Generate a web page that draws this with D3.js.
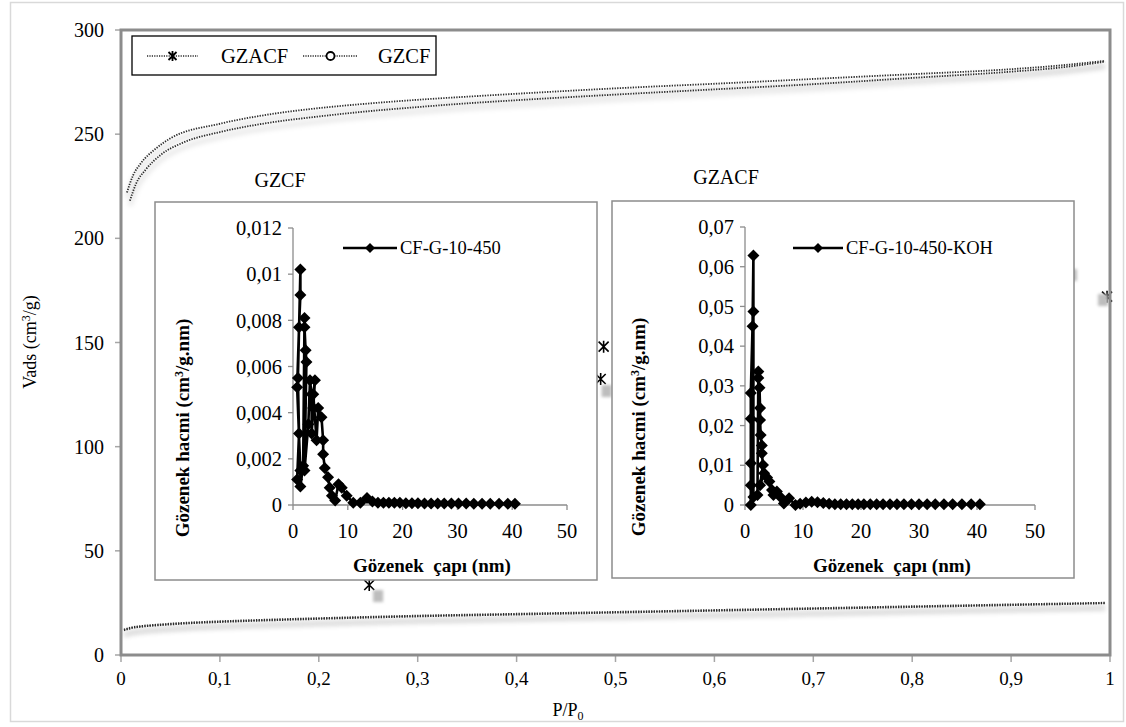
<!DOCTYPE html>
<html><head><meta charset="utf-8">
<script src="https://cdn.jsdelivr.net/npm/d3@7"></script>
<style>
body{margin:0;background:#fff}
svg text{font-family:'Liberation Serif','DejaVu Serif',serif;fill:#000}
</style>
</head><body>
<svg id="c" width="1126" height="727" font-family="Liberation Serif, serif"></svg>
<script>
// ---------------- DATA ----------------
// Main isotherms (P/P0 vs Vads)
const gzacfAdsP = [0.009,0.015,0.025,0.04,0.063,0.1,0.15,0.2,0.25,0.3,0.35,0.4,0.5,0.6,0.7,0.8,0.9,0.95,0.995];
const gzacfAdsV = [218,226,233,240,246,251,255.5,258.5,261,263,264.8,266.3,269,271.5,274,277,280,282,284.8];
const gzacfDesP = [0.006,0.012,0.02,0.035,0.05,0.1,0.15,0.2,0.25,0.3,0.35,0.4,0.5,0.6,0.7,0.8,0.9,0.95,0.995];
const gzacfDesV = [222,230,236,243,248,255,259.5,262.5,264.7,266.5,268,269.4,272,274.2,276.5,278.8,281.2,283,285.2];
const gzcfAdsP = [0.003,0.01,0.02,0.04,0.07,0.1,0.15,0.2,0.3,0.4,0.5,0.6,0.7,0.8,0.9,0.995];
const gzcfAdsV = [11.8,12.8,13.5,14.3,15.2,15.8,16.6,17.3,18.5,19.4,20.3,21.2,22.1,23,23.9,24.8];
const gzcfDesP = [0.003,0.01,0.02,0.04,0.07,0.1,0.15,0.2,0.3,0.4,0.5,0.6,0.7,0.8,0.9,0.995];
const gzcfDesV = [12.2,13.2,13.9,14.7,15.6,16.2,17.0,17.7,18.9,19.8,20.7,21.6,22.5,23.4,24.3,25.1];
// stray GZACF markers visible on the main chart
const strayP = [0.488,0.485,0.251,0.997];
const strayV = [148,132.5,33.6,172];
const boxP = [0.491,0.26,0.9616,0.993];
const boxV = [126.7,28.3,182.4,170.4];

const seriesNames = ["GZACF","GZCF"];
const xTickVals = [0,0.1,0.2,0.3,0.4,0.5,0.6,0.7,0.8,0.9,1];
const xTickLabels = ["0","0,1","0,2","0,3","0,4","0,5","0,6","0,7","0,8","0,9","1"];
const yTickVals = [0,50,100,150,200,250,300];
const yTickLabels = ["0","50","100","150","200","250","300"];

// Inset 1: GZCF pore size distribution (CF-G-10-450)
const psd1D = [0.75,1.1,0.9,1.35,1.35,1.1,0.75,1.35,1.35,1.85,2.1,2.1,2.3,2.45,2.1,2.8,3.1,3.4,3.4,3.7,4.0,3.7,4.3,4.6,5.2,5.5,5.5,5.8,6.4,6.7,7.1,7.7,8.3,8.9,9.8,11,12.3,13.5,14.5,15.5,16.5,17.5,18.5,19.5,20.6,21.7,22.8,24,25.2,26.4,27.6,28.9,30.2,31.6,33,34.5,36,37.6,39.2,40.5];
const psd1V = [0.0011,0.0031,0.0055,0.0102,0.0091,0.0077,0.0051,0.0015,0.0008,0.0017,0.0081,0.0077,0.0067,0.0062,0.0015,0.0035,0.0054,0.0048,0.0031,0.0042,0.0054,0.0048,0.0028,0.0042,0.0038,0.0028,0.0022,0.0016,0.0012,0.00075,0.0004,0.0002,0.0009,0.00075,0.0004,0.0001,0.0001,0.0003,0.00015,0.0001,0.0001,0.0001,0.0001,0.0001,0.00008,0.00008,0.00008,0.00007,0.00007,0.00007,0.00006,0.00006,0.00006,0.00006,0.00005,0.00005,0.00005,0.00005,0.00005,0.00005];
const psd1Ticks = [0,0.002,0.004,0.006,0.008,0.01,0.012];
const psd1TickLabels = ["0","0,002","0,004","0,006","0,008","0,01","0,012"];

// Inset 2: GZACF pore size distribution (CF-G-10-450-KOH)
const psd2D = [1.0,1.0,1.0,1.0,1.0,1.3,1.45,1.45,1.45,2.15,2.3,2.3,2.5,2.6,2.6,2.7,2.9,2.9,3.1,2.6,3.3,3.8,4.2,4.65,4.9,5.5,6.1,6.7,7.6,8.7,9.5,10.5,11.5,12.5,13.5,14.5,15.5,16.5,17.5,18.5,19.5,20.5,21.6,22.7,23.8,25,26.2,27.4,28.7,30,31.4,32.8,34.3,35.8,37.4,39,40.5];
const psd2V = [0.0,0.005,0.0105,0.0217,0.0282,0.045,0.0628,0.0487,0.002,0.0025,0.0336,0.032,0.0295,0.0244,0.0214,0.0176,0.015,0.013,0.0101,0.005,0.008,0.0069,0.0059,0.0038,0.0025,0.0034,0.002,0.0004,0.0017,0.0,0.0003,0.0006,0.0008,0.0007,0.0005,0.0003,0.0002,0.0002,0.0002,0.0002,0.0002,0.0002,0.0002,0.0002,0.0002,0.0002,0.0002,0.0002,0.0002,0.0002,0.0002,0.0002,0.0002,0.0002,0.0002,0.0002,0.0002];
const psd2Ticks = [0,0.01,0.02,0.03,0.04,0.05,0.06,0.07];
const psd2TickLabels = ["0","0,01","0,02","0,03","0,04","0,05","0,06","0,07"];
const psdXTicks = [0,10,20,30,40,50];
const psdXTickLabels = ["0","10","20","30","40","50"];

// ---------------- DRAW ----------------
const FONT = "'Liberation Serif','DejaVu Serif',serif";
const svg = d3.select('#c');
const defs = svg.append('defs');
defs.append('filter').attr('id','blur').attr('x','-20%').attr('y','-50%').attr('width','140%').attr('height','200%')
  .append('feGaussianBlur').attr('stdDeviation',2.5);
defs.append('filter').attr('id','blur2').attr('x','-100%').attr('y','-100%').attr('width','300%').attr('height','300%')
  .append('feGaussianBlur').attr('stdDeviation',1.5);

// outer chart border
svg.append('rect').attr('x',10.5).attr('y',2.5).attr('width',1113).attr('height',719)
  .attr('fill','#fff').attr('stroke','#d9d9d9').attr('stroke-width',1.5);

const x = d3.scaleLinear().domain([0,1]).range([121,1110]);
const y = d3.scaleLinear().domain([0,300]).range([655,30]);

// axis ticks & labels
const gY = svg.append('g');
gY.selectAll('line').data(yTickVals).join('line')
  .attr('x1',115).attr('x2',121).attr('y1',d=>y(d)).attr('y2',d=>y(d))
  .attr('stroke','#a6a6a6').attr('stroke-width',1.5);
gY.selectAll('text').data(yTickVals).join('text')
  .attr('x',104).attr('y',d=>y(d)).attr('dy','0.35em').attr('text-anchor','end')
  .attr('font-size',20).text((d,i)=>yTickLabels[i]);
const gX = svg.append('g');
gX.selectAll('line').data(xTickVals).join('line')
  .attr('x1',d=>x(d)).attr('x2',d=>x(d)).attr('y1',655).attr('y2',662)
  .attr('stroke','#a6a6a6').attr('stroke-width',1.5);
gX.selectAll('text').data(xTickVals).join('text')
  .attr('x',d=>x(d)).attr('y',685).attr('text-anchor','middle')
  .attr('font-size',19).text((d,i)=>xTickLabels[i]);

// axis titles
const yt = svg.append('text').attr('transform','translate(36,342) rotate(-90)')
  .attr('text-anchor','middle').attr('font-size',18);
yt.append('tspan').text('Vads (cm');
yt.append('tspan').attr('font-size',12).attr('dy',-6).text('3');
yt.append('tspan').attr('dy',6).text('/g)');
const xt = svg.append('text').attr('x',568).attr('y',716).attr('text-anchor','middle').attr('font-size',18);
xt.append('tspan').text('P/P');
xt.append('tspan').attr('font-size',12).attr('dy',4).text('0');

// isotherm curves
const line = d3.line().x(d=>x(d[0])).y(d=>y(d[1])).curve(d3.curveMonotoneX);
const curves = [
  d3.zip(gzacfAdsP,gzacfAdsV), d3.zip(gzacfDesP,gzacfDesV),
  d3.zip(gzcfAdsP,gzcfAdsV), d3.zip(gzcfDesP,gzcfDesV)
];
const gC = svg.append('g');
curves.forEach(c=>{
  gC.append('path').attr('d',line(c)).attr('fill','none').attr('stroke','#000').attr('stroke-opacity',0.1)
    .attr('stroke-width',4).attr('transform','translate(0,5)').attr('filter','url(#blur)');
});
curves.forEach(c=>{
  gC.append('path').attr('d',line(c)).attr('fill','none').attr('stroke','#2a2a2a')
    .attr('stroke-width',1.8).attr('stroke-dasharray','1.3,1.3');
});

// stray markers and label boxes (partially covered by insets)
const asterisk = 'M-5,-5L5,5M-5,5L5,-5M0,-6L0,6';
strayP.forEach((p,i)=>{
  svg.append('path').attr('d',asterisk).attr('transform',`translate(${x(p)},${y(strayV[i])})`)
    .attr('stroke','#000').attr('stroke-width',1.6).attr('fill','none');
});
boxP.forEach((p,i)=>{
  svg.append('rect').attr('x',x(p)-5).attr('y',y(boxV[i])-6).attr('width',10).attr('height',12)
    .attr('fill','#bdbdbd').attr('filter','url(#blur2)');
});

// main frame
svg.append('rect').attr('x',121).attr('y',30).attr('width',989).attr('height',625)
  .attr('fill','none').attr('stroke','#8c8c8c').attr('stroke-width',3);

// legend
const lg = svg.append('g');
lg.append('rect').attr('x',132).attr('y',36).attr('width',304).attr('height',39)
  .attr('fill','#fff').attr('stroke','#000').attr('stroke-width',1.3);
const legItems = [{x1:147,x2:198,tx:221,m:'ast'},{x1:303,x2:358,tx:378,m:'circ'}];
legItems.forEach((it,i)=>{
  lg.append('line').attr('x1',it.x1).attr('x2',it.x2).attr('y1',56).attr('y2',56)
    .attr('stroke','#2a2a2a').attr('stroke-width',1.5).attr('stroke-dasharray','1.2,1.2');
  const cx=(it.x1+it.x2)/2;
  if(it.m==='ast') lg.append('path').attr('d','M-4,-4L4,4M-4,4L4,-4M0,-5L0,5').attr('transform',`translate(${cx},56)`)
    .attr('stroke','#000').attr('stroke-width',1.8);
  else lg.append('circle').attr('cx',cx).attr('cy',56).attr('r',4).attr('fill','#fff').attr('stroke','#000').attr('stroke-width',1.8);
  lg.append('text').attr('x',it.tx).attr('y',63).attr('font-size',20.5).text(seriesNames[i]);
});

// inset titles
svg.append('text').attr('x',280).attr('y',187).attr('text-anchor','middle').attr('font-size',20).text('GZCF');
svg.append('text').attr('x',726).attr('y',184).attr('text-anchor','middle').attr('font-size',20).text('GZACF');

const diamond = 'M0,-6L6,0L0,6L-6,0Z';
function inset(o){
  const g = svg.append('g');
  g.append('rect').attr('x',o.bx).attr('y',o.by).attr('width',o.bw).attr('height',o.bh)
    .attr('fill','#fff').attr('stroke','#8c8c8c').attr('stroke-width',1.5);
  const sx = d3.scaleLinear().domain([0,50]).range(o.xr);
  const sy = d3.scaleLinear().domain([0,o.ymax]).range(o.yr);
  // axes
  g.append('line').attr('x1',o.xr[0]).attr('x2',o.xr[0]).attr('y1',o.yr[0]).attr('y2',o.yr[1]).attr('stroke','#8c8c8c').attr('stroke-width',1.3);
  g.append('line').attr('x1',o.xr[0]).attr('x2',o.xr[1]).attr('y1',o.yr[0]).attr('y2',o.yr[0]).attr('stroke','#8c8c8c').attr('stroke-width',1.3);
  g.selectAll('.yt').data(o.yTicks).join('line').attr('x1',o.xr[0]-5).attr('x2',o.xr[0])
    .attr('y1',d=>sy(d)).attr('y2',d=>sy(d)).attr('stroke','#8c8c8c').attr('stroke-width',1.3);
  g.selectAll('.ytl').data(o.yTicks).join('text').attr('x',o.xr[0]-11).attr('y',d=>sy(d)).attr('dy','0.35em')
    .attr('text-anchor','end').attr('font-size',20.5).text((d,i)=>o.yLabels[i]);
  g.selectAll('.xt').data(psdXTicks).join('line').attr('x1',d=>sx(d)).attr('x2',d=>sx(d))
    .attr('y1',o.yr[0]).attr('y2',o.yr[0]+5).attr('stroke','#8c8c8c').attr('stroke-width',1.3);
  g.selectAll('.xtl').data(psdXTicks).join('text').attr('x',d=>sx(d)).attr('y',o.yr[0]+33)
    .attr('text-anchor','middle').attr('font-size',20.5).text((d,i)=>psdXTickLabels[i]);
  // titles
  const t = g.append('text').attr('transform',`translate(${o.ytx},${o.yty}) rotate(-90)`)
    .attr('text-anchor','middle').attr('font-size',19).attr('font-weight','bold');
  t.append('tspan').text('Gözenek hacmi (cm');
  t.append('tspan').attr('font-size',12).attr('dy',-6).text('3');
  t.append('tspan').attr('dy',6).text('/g.nm)');
  g.append('text').attr('x',o.xtx).attr('y',o.yr[0]+67).attr('text-anchor','middle').attr('font-size',19)
    .attr('font-weight','bold').attr('xml:space','preserve').text('Gözenek  çapı (nm)');
  // data
  const pts = d3.zip(o.d,o.v);
  const ln = d3.line().x(d=>sx(d[0])).y(d=>sy(d[1]));
  g.append('path').attr('d',ln(pts)).attr('fill','none').attr('stroke','#000').attr('stroke-width',2.6);
  g.selectAll('.m').data(pts).join('path').attr('d',diamond)
    .attr('transform',d=>`translate(${sx(d[0])},${sy(d[1])})`).attr('fill','#000');
  // legend
  g.append('line').attr('x1',o.lx1).attr('x2',o.lx2).attr('y1',248).attr('y2',248).attr('stroke','#000').attr('stroke-width',2.4);
  g.append('path').attr('d','M0,-5L5,0L0,5L-5,0Z').attr('transform',`translate(${(o.lx1+o.lx2)/2},248)`).attr('fill','#000');
  g.append('text').attr('x',o.lx2+3).attr('y',254).attr('font-size',18.5).text(o.name);
}
inset({bx:155,by:202,bw:442,bh:378,xr:[293,567],yr:[505,228],ymax:0.012,yTicks:psd1Ticks,yLabels:psd1TickLabels,
  d:psd1D,v:psd1V,ytx:189,yty:428,xtx:432,lx1:343,lx2:397,name:'CF-G-10-450'});
inset({bx:612,by:201,bw:462,bh:377,xr:[745,1035],yr:[505,227],ymax:0.07,yTicks:psd2Ticks,yLabels:psd2TickLabels,
  d:psd2D,v:psd2V,ytx:645,yty:427,xtx:892,lx1:793,lx2:843,name:'CF-G-10-450-KOH'});
svg.selectAll('text').style('font-family',FONT);
</script>
</body></html>
